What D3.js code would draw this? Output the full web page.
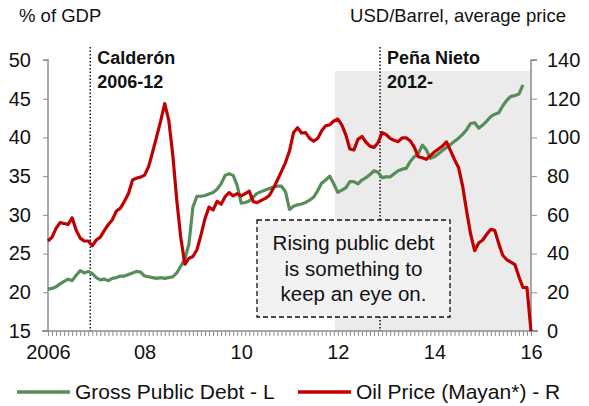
<!DOCTYPE html>
<html>
<head>
<meta charset="utf-8">
<script src="https://cdn.jsdelivr.net/npm/d3@7/dist/d3.min.js"></script>
<style>
  html, body { margin: 0; padding: 0; background: #fff; }
  svg { display: block; font-family: "Liberation Sans", Arial, sans-serif; }
</style>
</head>
<body>
<svg id="chart" width="589" height="406"></svg>
<script>
// Monthly series, starting January 2006
const startYear = 2006;

// Gross public debt, % of GDP (left axis)
const debtPct = [
  20.4, 20.5, 20.7, 21.1, 21.4, 21.7, 21.5, 22.2, 22.8, 22.5, 22.7, 22.4,
  21.9, 21.6, 21.7, 21.5, 21.8, 21.9, 22.1, 22.1, 22.3, 22.5, 22.7, 22.6,
  22.1, 22.0, 21.9, 21.8, 21.9, 21.8, 21.9, 22.0, 22.5, 23.4, 24.3, 26.2,
  31.0, 32.4, 32.4, 32.5, 32.7, 32.9, 33.3, 34.0, 35.1, 35.3, 35.1, 33.8,
  31.5, 31.6, 31.8, 32.3, 32.8, 33.0, 33.2, 33.4, 33.6, 33.7, 33.7, 33.0,
  30.7, 31.1, 31.3, 31.4, 31.6, 31.9, 32.3, 33.1, 34.1, 34.5, 35.0, 34.0,
  32.9, 33.2, 33.5, 34.3, 34.3, 34.0, 34.5, 34.8, 35.2, 35.7, 35.5, 34.8,
  34.9, 34.9, 35.3, 35.7, 35.9, 36.0, 36.9, 37.5, 37.9, 39.0, 38.4, 37.3,
  37.5, 37.9, 38.3, 38.7, 39.1, 39.5, 39.9, 40.4, 41.0, 41.8, 41.9, 41.2,
  41.6, 42.1, 42.7, 43.0, 43.2, 44.1, 44.8, 45.3, 45.4, 45.6, 46.8
];

// Mayan crude oil price, USD per barrel (right axis)
const oilPrice = [
  46.5, 48.5, 53.0, 56.0, 55.5, 55.0, 58.5, 52.0, 48.0, 46.5, 46.5, 44.0,
  47.0, 48.5, 52.0, 55.0, 57.5, 62.0, 63.5, 67.0, 71.0, 78.0, 79.0, 79.5,
  80.5, 85.0, 92.5, 100.4, 108.5, 117.5, 109.0, 91.0, 67.5, 48.0, 34.5, 37.5,
  38.5, 42.0, 49.5, 58.0, 64.0, 62.5, 67.0, 65.5, 69.4, 71.5, 69.8, 71.0,
  69.8, 71.0, 72.2, 66.8, 66.3, 67.5, 68.5, 70.0, 73.7, 78.0, 82.5, 87.0,
  93.0, 102.5, 105.0, 102.3, 102.5, 99.5, 98.0, 99.5, 103.5, 106.0, 106.5, 108.5,
  109.5, 106.5, 101.3, 94.0, 93.5, 99.0, 100.5, 97.5, 95.5, 94.8, 97.3, 102.5,
  101.5, 99.5, 98.5, 97.8, 99.8, 99.8, 98.2, 95.0, 90.0, 89.5, 88.7, 90.5,
  92.5, 94.0, 95.5, 97.7, 93.2, 88.5, 84.5, 75.0, 62.0, 50.0, 41.5, 45.5,
  47.0, 50.0, 52.5, 52.0, 45.0, 39.0, 36.8, 35.6, 34.3, 28.0, 22.5, 22.4,
  0.0
];

// Axis ticks and labels
const leftTicks = [15, 20, 25, 30, 35, 40, 45, 50];
const rightTicks = [0, 20, 40, 60, 80, 100, 120, 140];
const yearTickMonths = [0, 24, 48, 72, 96, 120];
const yearTickLabels = ["2006", "08", "10", "12", "14", "16"];

// Administrations (month index since Jan 2006)
const termLabels = [["Calderón", "2006-12"], ["Peña Nieto", "2012-"]];
const termStarts = [10.5, 82.5];
const shadeStart = 71.3;

const noteLines = ["Rising public debt", "is something to", "keep an eye on."];
const legendLabels = ["Gross Public Debt - L", "Oil Price (Mayan*) - R"];

const debtColor = "#588c5a";
const oilColor = "#c00000";
const axisColor = "#8c8c8c";

const svg = d3.select("#chart");
const plot = { left: 48, right: 531, top: 60, bottom: 331 };

const x = d3.scaleLinear().domain([0, 120]).range([plot.left, plot.right]);
const yL = d3.scaleLinear().domain([15, 50]).range([plot.bottom, plot.top]);
const yR = d3.scaleLinear().domain([0, 140]).range([plot.bottom, plot.top]);

// Shaded current administration
svg.append("rect")
  .attr("x", x(shadeStart)).attr("y", 71)
  .attr("width", x(120) - x(shadeStart)).attr("height", plot.bottom - 71)
  .attr("fill", "#ebebeb");

// Axis titles
svg.append("text").attr("x", 19).attr("y", 22)
  .attr("font-size", 18.5).attr("fill", "#111").text("% of GDP");
svg.append("text").attr("x", 566).attr("y", 22).attr("text-anchor", "end")
  .attr("font-size", 18.5).attr("fill", "#111").text("USD/Barrel, average price");

// Left axis
const gL = svg.append("g").attr("transform", `translate(${plot.left},0)`)
  .call(d3.axisLeft(yL).tickValues(leftTicks).tickSize(5).tickPadding(12));
// Right axis
const gR = svg.append("g").attr("transform", `translate(${plot.right},0)`)
  .call(d3.axisRight(yR).tickValues(rightTicks).tickSize(6).tickPadding(10));
// Bottom axis with monthly minor ticks
const gB = svg.append("g").attr("transform", `translate(0,${plot.bottom})`)
  .call(d3.axisBottom(x).tickValues(d3.range(0, 121)).tickSize(5).tickFormat(""));
const gBL = svg.append("g").attr("transform", `translate(0,${plot.bottom})`)
  .call(d3.axisBottom(x).tickValues(yearTickMonths).tickSize(0).tickPadding(14)
    .tickFormat((d, i) => yearTickLabels[i]));

[gL, gR, gB, gBL].forEach(g => {
  g.selectAll(".domain").attr("stroke", axisColor).attr("stroke-width", 1.5);
  g.selectAll(".tick line").attr("stroke", axisColor).attr("stroke-width", 1);
  g.selectAll(".tick text").attr("font-size", 20).attr("fill", "#111")
    .attr("font-family", "'Liberation Sans', Arial, sans-serif");
});
gL.select(".domain").attr("d", `M-5,${plot.top}H0V${plot.bottom}H-5`);
gR.select(".domain").attr("d", `M6,${plot.top}H0V${plot.bottom}H6`);
gB.select(".domain").attr("d", `M${plot.left - 6},0H${plot.right + 7}`);
gBL.select(".domain").remove();

// Term start markers
termStarts.forEach((m, i) => {
  svg.append("line")
    .attr("x1", x(m)).attr("x2", x(m)).attr("y1", 47).attr("y2", plot.bottom)
    .attr("stroke", "#111").attr("stroke-width", 1.5).attr("stroke-dasharray", "1.5,2");
  termLabels[i].forEach((t, j) => {
    svg.append("text").attr("x", x(m) + 7).attr("y", 64 + j * 24)
      .attr("font-size", 18).attr("font-weight", "bold").attr("fill", "#111").text(t);
  });
});

// Series lines
const lineL = d3.line().x((d, i) => x(i)).y(d => yL(d));
const lineR = d3.line().x((d, i) => x(i)).y(d => yR(d));

svg.append("path").datum(debtPct).attr("d", lineL)
  .attr("fill", "none").attr("stroke", debtColor).attr("stroke-width", 3.2)
  .attr("stroke-linejoin", "round");
svg.append("path").datum(oilPrice).attr("d", lineR)
  .attr("fill", "none").attr("stroke", oilColor).attr("stroke-width", 3.2)
  .attr("stroke-linejoin", "round");

// Note box
const note = svg.append("g");
note.append("rect").attr("x", 257).attr("y", 220).attr("width", 193).attr("height", 97)
  .attr("fill", "#f2f2f2").attr("stroke", "#111").attr("stroke-width", 1.3)
  .attr("stroke-dasharray", "5,3");
noteLines.forEach((t, i) => {
  note.append("text").attr("x", 353.5).attr("y", 250 + i * 25.5)
    .attr("text-anchor", "middle").attr("font-size", 20.5).attr("fill", "#111").text(t);
});

// Legend
const legend = svg.append("g");
[[17, debtColor], [298, oilColor]].forEach(([lx, c], i) => {
  legend.append("line").attr("x1", lx).attr("x2", lx + 53).attr("y1", 392).attr("y2", 392)
    .attr("stroke", c).attr("stroke-width", 3.5);
  legend.append("text").attr("x", lx + 58).attr("y", 399)
    .attr("font-size", 21).attr("fill", "#111").text(legendLabels[i]);
});
</script>
</body>
</html>
